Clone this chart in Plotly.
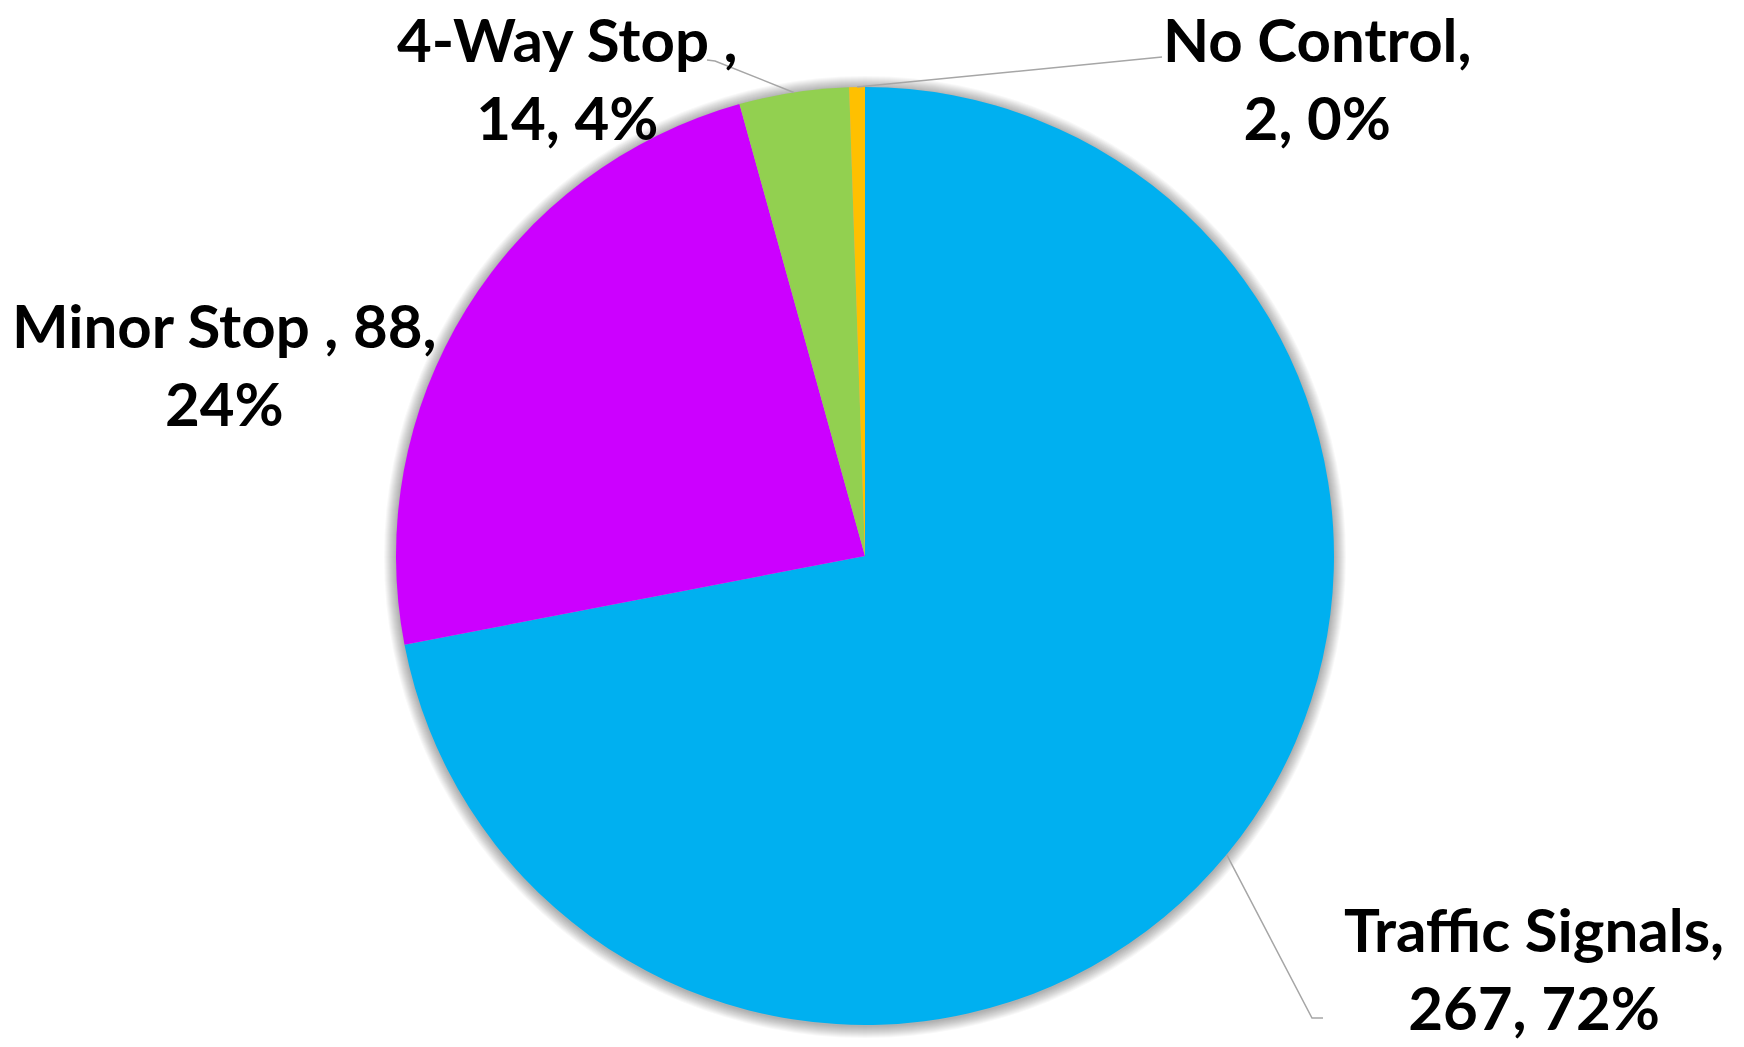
import math
import plotly.graph_objects as go

# Intersection control types and crash counts
labels = ["Traffic Signals", "Minor Stop ", "4-Way Stop ", "No Control"]
values = [267, 88, 14, 2]
colors = ["#00B0F0", "#CC00FF", "#92D050", "#FFC000"]
# where each label wraps: after the name, or after the count
wrap_after = ["name", "count", "name", "name"]

W, H = 1744, 1047
CX, CY, R = 865, 556, 469  # pie centre and radius in pixels


def px(x):
    return x / W


def py(y):
    return 1 - y / H


# percentages rounded so they add up to 100 (largest remainder)
total = sum(values)
raw = [v * 100 / total for v in values]
pct = [math.floor(p) for p in raw]
order = sorted(range(len(raw)), key=lambda i: raw[i] - pct[i], reverse=True)
for i in order[: 100 - sum(pct)]:
    pct[i] += 1

fig = go.Figure()
fig.add_trace(
    go.Pie(
        labels=labels,
        values=values,
        sort=False,
        direction="clockwise",
        rotation=0,
        marker=dict(colors=colors, line=dict(width=0)),
        textinfo="none",
        hoverinfo="label+value+percent",
        showlegend=False,
        domain=dict(x=[px(CX - R), px(CX + R)], y=[py(CY + R), py(CY - R)]),
    )
)

# soft drop shadow around the pie
shapes = []
for k in range(12, 0, -1):
    rr = R + k * 1.0
    shapes.append(
        dict(
            type="circle", xref="paper", yref="paper", layer="below",
            x0=px(CX - rr), x1=px(CX + rr),
            y0=py(CY + rr + 1), y1=py(CY - rr + 1),
            fillcolor="rgba(0,0,0,0.028)", line=dict(width=0),
        )
    )

# label anchor points (pixel centres) and leader-line elbows
label_pos = {
    "Traffic Signals": (1534, 968),
    "Minor Stop ": (224, 364),
    "4-Way Stop ": (567, 78),
    "No Control": (1317, 78),
}
leaders = {
    "Traffic Signals": [(1312, 1018), (1323, 1018)],
    "4-Way Stop ": [(715, 61), (707, 60)],
    "No Control": [(1162, 57)],
}

# mid-angle edge point of each slice
cum = 0
for lab, v, p, w in zip(labels, values, pct, wrap_after):
    mid = (cum + v / 2) / total * 2 * math.pi
    cum += v
    ex, ey = CX + R * math.sin(mid), CY - R * math.cos(mid)
    if lab in leaders:
        pts = [(ex, ey)] + leaders[lab]
        path = "M " + " L ".join(f"{px(x):.5f},{py(y):.5f}" for x, y in pts)
        shapes.append(
            dict(type="path", xref="paper", yref="paper", path=path,
                 line=dict(color="#A6A6A6", width=1.5))
        )
    if w == "name":
        text = f"{lab},<br>{v}, {p}%"
    else:
        text = f"{lab}, {v},<br>{p}%"
    lx, ly = label_pos[lab]
    fig.add_annotation(
        x=px(lx), y=py(ly), xref="paper", yref="paper",
        text=text, showarrow=False, xanchor="center", yanchor="middle",
        align="center",
        font=dict(family="Lato", size=60, color="black", weight="bold"),
    )

fig.update_layout(
    width=W, height=H,
    margin=dict(l=0, r=0, t=0, b=0),
    paper_bgcolor="white", plot_bgcolor="white",
    shapes=shapes,
)

fig.write_html("out.html")
